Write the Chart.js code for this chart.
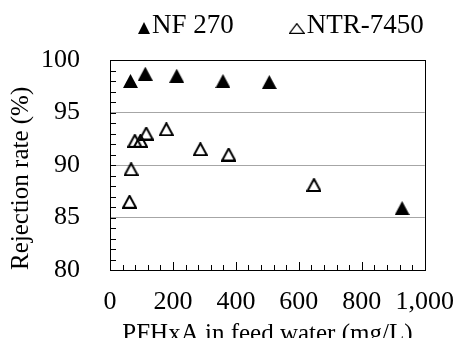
<!DOCTYPE html>
<html>
<head>
<meta charset="utf-8">
<script src="https://cdn.jsdelivr.net/npm/chart.js@4.4.0/dist/chart.umd.min.js"></script>
<style>
html, body { margin: 0; padding: 0; background: #fff; overflow: hidden; }
#wrap { width: 471px; height: 338px; }
</style>
</head>
<body>
<div id="wrap"><canvas id="chart" width="471" height="338"></canvas></div>
<script>
// Datos
const seriesNames = ['NF 270', 'NTR-7450'];
const nf270Feed = [65, 112, 212, 359, 506, 928];
const nf270Rejection = [98.0, 98.7, 98.5, 98.0, 97.9, 85.9];
const ntrFeed = [62, 67, 79, 97, 115, 179, 287, 377, 648];
const ntrRejection = [86.5, 89.6, 92.3, 92.3, 93.0, 93.4, 91.5, 91.0, 88.1];
const xTicks = [0, 200, 400, 600, 800, 1000];
const yTicks = [80, 85, 90, 95, 100];
const xTitle = 'PFHxA in feed water (mg/L)';
const yTitle = 'Rejection rate (%)';

const FONT = "'Liberation Serif', serif";
Chart.defaults.font.family = FONT;
Chart.defaults.color = '#000';

// Triángulos como imagen (centrados por su caja, como en Excel)
function makeTriangle(filled, w, h, lw) {
    const c = document.createElement('canvas');
    c.width = w;
    c.height = h;
    const g = c.getContext('2d');
    const inset = filled ? 0 : lw / 2;
    g.beginPath();
    g.moveTo(w / 2, inset);
    g.lineTo(w - inset, h - inset);
    g.lineTo(inset, h - inset);
    g.closePath();
    if (filled) {
        g.fillStyle = '#000';
        g.fill();
    } else {
        g.lineWidth = lw;
        g.strokeStyle = '#000';
        g.stroke();
    }
    return c;
}

const filledMark = makeTriangle(true, 15, 14, 0);
const openMark = makeTriangle(false, 15, 14, 2);
const filledLegend = makeTriangle(true, 12, 12, 0);
const openLegend = makeTriangle(false, 16, 11, 1.3);

function toPoints(xs, ys) {
    return xs.map((x, i) => ({ x: x, y: ys[i] }));
}

// Marco, marcas menores hacia dentro y leyenda arriba
const framePlugin = {
    id: 'frame',
    afterDraw(chart) {
        const ctx = chart.ctx;
        const a = chart.chartArea;
        const sx = chart.scales.x;
        const sy = chart.scales.y;
        ctx.save();
        ctx.strokeStyle = '#000';
        ctx.lineWidth = 1;
        ctx.beginPath();
        for (let v = 40; v < 1000; v += 40) {
            const px = Math.round(sx.getPixelForValue(v)) + 0.5;
            const len = v % 200 === 0 ? 8 : 5;
            ctx.moveTo(px, a.bottom);
            ctx.lineTo(px, a.bottom - len);
        }
        for (let v = 81; v < 100; v++) {
            const py = Math.round(sy.getPixelForValue(v)) + 0.5;
            ctx.moveTo(a.left, py);
            ctx.lineTo(a.left + 6, py);
        }
        ctx.stroke();
        ctx.strokeRect(Math.round(a.left) + 0.5, Math.round(a.top) + 0.5,
            Math.round(a.right - a.left), Math.round(a.bottom - a.top));

        // leyenda
        ctx.font = '27px ' + FONT;
        ctx.fillStyle = '#000';
        ctx.textBaseline = 'middle';
        ctx.textAlign = 'left';
        const gapMark = 2;
        const gapItem = 55;
        const items = chart.data.datasets.map(ds => ({
            img: ds.legendStyle,
            text: ds.label,
            tw: ctx.measureText(ds.label).width
        }));
        let total = 0;
        items.forEach((it, i) => {
            total += it.img.width + gapMark + it.tw + (i > 0 ? gapItem : 0);
        });
        let x = Math.round((a.left + a.right) / 2 + 14 - total / 2);
        const cy = 26;
        items.forEach(it => {
            ctx.drawImage(it.img, x, Math.round(cy + 2 - it.img.height / 2));
            x += it.img.width + gapMark;
            ctx.fillText(it.text, x, cy);
            x += it.tw + gapItem;
        });
        ctx.restore();
    }
};

new Chart(document.getElementById('chart'), {
    type: 'scatter',
    data: {
        datasets: [
            {
                label: seriesNames[0],
                data: toPoints(nf270Feed, nf270Rejection),
                pointStyle: filledMark,
                legendStyle: filledLegend
            },
            {
                label: seriesNames[1],
                data: toPoints(ntrFeed, ntrRejection),
                pointStyle: openMark,
                legendStyle: openLegend
            }
        ]
    },
    options: {
        responsive: false,
        animation: false,
        devicePixelRatio: 1,
        layout: { padding: { top: 60, right: 29, left: 0, bottom: 0 } },
        plugins: {
            tooltip: { enabled: false },
            legend: { display: false }
        },
        scales: {
            x: {
                type: 'linear',
                min: xTicks[0],
                max: xTicks[xTicks.length - 1],
                afterBuildTicks: s => { s.ticks = xTicks.map(v => ({ value: v })); },
                afterFit: s => { s.height = 68; },
                grid: { display: false, drawTicks: false },
                border: { display: false },
                ticks: {
                    color: '#000',
                    padding: 17,
                    maxRotation: 0,
                    font: { size: 26 },
                    callback: v => v.toLocaleString('en-US')
                },
                title: {
                    display: true,
                    text: xTitle,
                    color: '#000',
                    font: { size: 25, lineHeight: 1 },
                    padding: { top: 0, bottom: -9 }
                }
            },
            y: {
                type: 'linear',
                min: yTicks[0],
                max: yTicks[yTicks.length - 1],
                afterBuildTicks: s => { s.ticks = yTicks.map(v => ({ value: v })); },
                afterFit: s => { s.width = 110; },
                grid: {
                    drawTicks: false,
                    color: c => (c.tick && (c.tick.value === yTicks[0] || c.tick.value === yTicks[yTicks.length - 1])) ? 'rgba(0,0,0,0)' : '#a6a6a6'
                },
                border: { display: false },
                ticks: {
                    color: '#000',
                    padding: 30,
                    font: { size: 26 }
                },
                title: {
                    display: true,
                    text: yTitle,
                    align: 'start',
                    color: '#000',
                    font: { size: 25 },
                    padding: { top: 6, bottom: 0 }
                }
            }
        }
    },
    plugins: [framePlugin]
});
</script>
</body>
</html>
